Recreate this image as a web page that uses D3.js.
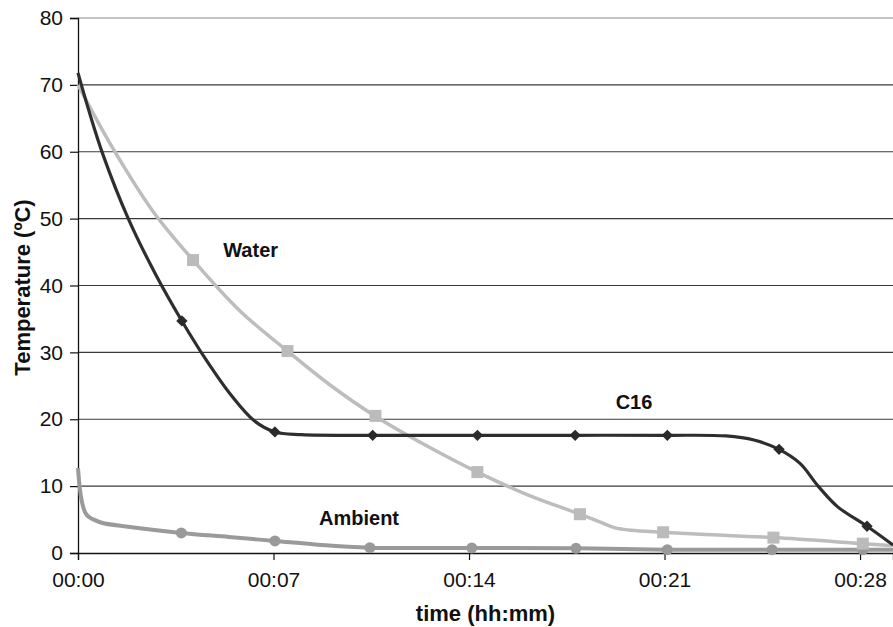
<!DOCTYPE html>
<html>
<head>
<meta charset="utf-8">
<script src="https://cdn.jsdelivr.net/npm/d3@7"></script>
<style>
  body { margin: 0; background: #fff; }
  text { font-family: "Liberation Sans", Arial, sans-serif; fill: #111; }
  .tick-label { font-size: 21px; }
  .axis-title { font-size: 22px; font-weight: bold; }
  .series-tag { font-size: 20px; font-weight: bold; }
</style>
</head>
<body>
<div id="chart"></div>
<script>
// time in minutes, temperature in ºC
let c16Time = [0, 0.4, 0.9, 1.8, 2.8, 3.72, 4.6, 5.5, 6.3, 7.05, 8.0, 10.5, 14.3, 17.8, 21.1, 23.2, 24.2, 25.1, 25.85, 26.5, 27.2, 28.25, 29.18];
let c16Temp = [71.8, 66, 59.5, 50, 41.5, 34.7, 28.8, 23.5, 19.8, 18.1, 17.7, 17.6, 17.6, 17.6, 17.6, 17.5, 16.9, 15.5, 13.4, 10, 6.9, 4.0, 1.2];

let waterTime = [0, 1.25, 2.7, 4.12, 5.8, 7.5, 9.0, 10.63, 12.5, 14.3, 16.1, 17.97, 18.7, 19.2, 19.8, 20.95, 22.3, 24.9, 28.1, 29.18];
let waterTemp = [70.0, 60.5, 51, 43.8, 36.2, 30.2, 25.2, 20.5, 16.0, 12.1, 8.7, 5.8, 4.6, 3.8, 3.4, 3.1, 2.8, 2.3, 1.4, 1.1];

let ambientTime = [0, 0.13, 0.31, 0.79, 1.86, 3.7, 5.4, 7.05, 8.7, 10.45, 14.1, 17.83, 19.5, 21.1, 24.85, 28.1, 29.18];
let ambientTemp = [12.7, 7.9, 5.7, 4.6, 3.9, 3.0, 2.4, 1.8, 1.2, 0.8, 0.75, 0.7, 0.6, 0.5, 0.5, 0.5, 0.5];

// marker positions
let c16MarkTime = [3.72, 7.05, 10.55, 14.3, 17.8, 21.1, 25.1, 28.25];
let c16MarkTemp = [34.7, 18.1, 17.6, 17.6, 17.6, 17.6, 15.5, 4.0];
let waterMarkTime = [4.12, 7.5, 10.65, 14.3, 17.97, 20.95, 24.9, 28.1];
let waterMarkTemp = [43.8, 30.2, 20.5, 12.1, 5.8, 3.1, 2.3, 1.4];
let ambientMarkTime = [3.7, 7.05, 10.45, 14.1, 17.83, 21.1, 24.85, 28.1];
let ambientMarkTemp = [3.0, 1.8, 0.8, 0.75, 0.7, 0.5, 0.5, 0.5];

let xTicks = [0, 7, 14, 21, 28];
let xTickLabels = ["00:00", "00:07", "00:14", "00:21", "00:28"];
let yTicks = [0, 10, 20, 30, 40, 50, 60, 70, 80];

let total_width = 893;
let total_height = 627;
let margin = {top: 18, right: 0, bottom: 74, left: 78};

var x = d3.scaleLinear()
    .domain([0, 29.18])
    .range([margin.left, total_width - margin.right]);
var y = d3.scaleLinear()
    .domain([0, 80])
    .range([total_height - margin.bottom, margin.top]);

var svg = d3.select("#chart").append("svg")
    .attr("width", total_width)
    .attr("height", total_height);

svg.append("rect")
    .attr("width", total_width)
    .attr("height", total_height)
    .attr("fill", "#fff");

// horizontal grid lines
svg.append("g").selectAll("line")
  .data(yTicks.filter(d => d > 0))
  .enter().append("line")
    .attr("x1", x.range()[0])
    .attr("x2", x.range()[1])
    .attr("y1", d => y(d))
    .attr("y2", d => y(d))
    .attr("stroke", d => d == 80 ? "#8a8a8a" : "#3a3a3a")
    .attr("stroke-width", 1.2);

// y axis
var yAxis = svg.append("g")
    .attr("transform", "translate(" + margin.left + ",0)")
    .call(d3.axisLeft(y).tickValues(yTicks).tickSize(8).tickPadding(7).tickFormat(d3.format("d")));
yAxis.select(".domain").attr("stroke", "#111").attr("stroke-width", 1.3);
yAxis.selectAll(".tick line").attr("stroke", "#111").attr("stroke-width", 1.2);
yAxis.selectAll(".tick text").attr("class", "tick-label").attr("font-family", null).attr("font-size", null).attr("fill", "#222");

// x axis
var xAxis = svg.append("g")
    .attr("transform", "translate(0," + y(0) + ")")
    .call(d3.axisBottom(x).tickValues(xTicks).tickSize(7).tickPadding(12)
        .tickFormat((d, i) => xTickLabels[i]));
xAxis.select(".domain").attr("stroke", "#111").attr("stroke-width", 1.3);
xAxis.selectAll(".tick line").attr("stroke", "#111").attr("stroke-width", 1.2);
xAxis.selectAll(".tick text").attr("class", "tick-label").attr("font-family", null).attr("font-size", null).attr("fill", "#222");

var line = d3.line()
    .x(d => x(d[0]))
    .y(d => y(d[1]))
    .curve(d3.curveCatmullRom.alpha(0.5));

function pairs(ts, vs) { return ts.map((t, i) => [t, vs[i]]); }

svg.append("clipPath").attr("id", "plotclip")
  .append("rect")
    .attr("x", margin.left - 4)
    .attr("y", margin.top - 4)
    .attr("width", total_width - margin.left + 4)
    .attr("height", y(0) - margin.top + 8);

var plot = svg.append("g").attr("clip-path", "url(#plotclip)");

// ambient
plot.append("path")
    .attr("d", line(pairs(ambientTime, ambientTemp)))
    .attr("fill", "none")
    .attr("stroke", "#9a9a9a")
    .attr("stroke-width", 4);
plot.append("g").selectAll("circle")
  .data(pairs(ambientMarkTime, ambientMarkTemp))
  .enter().append("circle")
    .attr("cx", d => x(d[0]))
    .attr("cy", d => y(d[1]))
    .attr("r", 5.5)
    .attr("fill", "#999");

// water
plot.append("path")
    .attr("d", line(pairs(waterTime, waterTemp)))
    .attr("fill", "none")
    .attr("stroke", "#bdbdbd")
    .attr("stroke-width", 3.5);
plot.append("g").selectAll("rect")
  .data(pairs(waterMarkTime, waterMarkTemp))
  .enter().append("rect")
    .attr("x", d => x(d[0]) - 6)
    .attr("y", d => y(d[1]) - 6)
    .attr("width", 12)
    .attr("height", 12)
    .attr("fill", "#bbb");

// C16
plot.append("path")
    .attr("d", line(pairs(c16Time, c16Temp)))
    .attr("fill", "none")
    .attr("stroke", "#2e2e2e")
    .attr("stroke-width", 3.2);
plot.append("g").selectAll("rect")
  .data(pairs(c16MarkTime, c16MarkTemp))
  .enter().append("rect")
    .attr("x", -4)
    .attr("y", -4)
    .attr("width", 8)
    .attr("height", 8)
    .attr("transform", d => "translate(" + x(d[0]) + "," + y(d[1]) + ") rotate(45)")
    .attr("fill", "#2a2a2a");

// series labels
svg.append("text").attr("class", "series-tag")
    .attr("x", x(5.2)).attr("y", y(44.3))
    .text("Water");
svg.append("text").attr("class", "series-tag")
    .attr("x", x(19.25)).attr("y", y(21.5))
    .text("C16");
svg.append("text").attr("class", "series-tag")
    .attr("x", x(8.63)).attr("y", y(4.2))
    .text("Ambient");

// axis titles
svg.append("text").attr("class", "axis-title")
    .attr("x", (x.range()[0] + x.range()[1]) / 2)
    .attr("y", 621)
    .attr("text-anchor", "middle")
    .text("time (hh:mm)");

svg.append("text").attr("class", "axis-title")
    .attr("transform", "translate(30," + (y(40) + 2) + ") rotate(-90)")
    .attr("text-anchor", "middle")
    .text("Temperature (ºC)");
</script>
</body>
</html>
